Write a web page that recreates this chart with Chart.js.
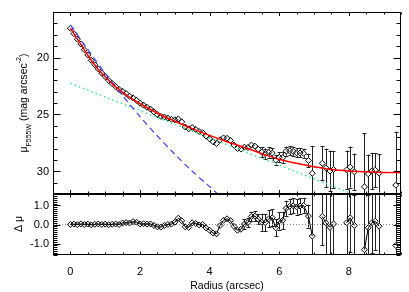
<!DOCTYPE html>
<html>
<head>
<meta charset="utf-8">
<script src="https://cdn.jsdelivr.net/npm/chart.js@4.4.0/dist/chart.umd.min.js"></script>
<style>
  html, body { margin: 0; padding: 0; background: #fff; }
  #wrap { position: relative; width: 409px; height: 292px; }
  #wrap canvas { position: absolute; left: 0; top: 0; }
</style>
</head>
<body>
<div id="wrap">
  <canvas id="profile" width="409" height="292"></canvas>
  <canvas id="resid" width="409" height="292"></canvas>
</div>
<script>
// observed surface brightness profile (arcsec, mag/arcsec^2)
const radius = [
  0.0, 0.1, 0.2, 0.3, 0.4, 0.5, 0.6, 0.7, 0.8, 0.9,
  1.0, 1.1, 1.2, 1.3, 1.4, 1.5, 1.6, 1.7, 1.8, 1.9,
  2.0, 2.1, 2.2, 2.3, 2.4, 2.5, 2.6, 2.7, 2.8, 2.9,
  3.0, 3.1, 3.2, 3.3, 3.4, 3.5, 3.6, 3.7, 3.8, 3.9,
  4.0, 4.1, 4.2, 4.3, 4.4, 4.5, 4.6, 4.7, 4.8, 4.9,
  5.0, 5.1, 5.2, 5.3, 5.4, 5.5, 5.6, 5.7, 5.8, 5.9,
  6.0, 6.1, 6.2, 6.3, 6.4, 6.5, 6.6, 6.7, 6.84, 6.95,
  7.24, 7.34, 7.46, 7.56, 7.94, 8.04, 8.16, 8.45, 8.56, 8.66, 8.76, 8.87, 9.35
];
const muObs = [
  17.43, 17.90, 18.39, 18.81, 19.32, 19.78, 20.25, 20.64, 21.00, 21.37,
  21.68, 22.01, 22.29, 22.55, 22.82, 22.97, 23.17, 23.41, 23.55, 23.76,
  24.02, 24.18, 24.37, 24.53, 24.78, 25.02, 25.18, 25.23, 25.32, 25.44,
  25.48, 25.40, 25.66, 26.11, 26.27, 26.16, 26.32, 26.51, 26.61, 26.91,
  27.15, 27.41, 27.56, 27.23, 27.07, 27.10, 27.30, 27.70, 28.00, 28.05,
  27.88, 27.91, 27.70, 27.79, 28.06, 28.33, 28.45, 28.35, 28.40, 29.02,
  28.77, 28.80, 28.24, 28.21, 28.25, 28.38, 28.39, 28.42, 29.06, 30.18,
  29.30, 29.70, 29.98, 29.85, 29.88, 29.63, 30.05, 31.37, 30.23, 29.98, 29.90, 30.17, 31.22
];
const muErr = [
  0.02, 0.02, 0.02, 0.02, 0.02, 0.02, 0.02, 0.02, 0.02, 0.02,
  0.02, 0.02, 0.02, 0.02, 0.02, 0.02, 0.02, 0.02, 0.02, 0.02,
  0.02, 0.02, 0.02, 0.02, 0.02, 0.02, 0.02, 0.02, 0.02, 0.02,
  0.02, 0.02, 0.02, 0.02, 0.02, 0.04, 0.04, 0.04, 0.04, 0.04,
  0.08, 0.08, 0.08, 0.08, 0.08, 0.15, 0.15, 0.15, 0.15, 0.15,
  0.25, 0.25, 0.25, 0.25, 0.25, 0.45, 0.45, 0.45, 0.45, 0.45,
  0.45, 0.45, 0.40, 0.40, 0.40, 0.40, 0.40, 0.40, 0.60, 2.40,
  1.50, 1.70, 1.80, 1.60, 1.70, 1.80, 1.60, 4.70, 1.70, 1.60, 1.50, 1.70, 4.70
];
// residuals (model - data)
const deltaMu = [
  0.00, 0.02, -0.01, 0.03, 0.00, 0.02, -0.02, 0.01, 0.03, 0.00,
  0.02, -0.01, 0.01, 0.03, 0.00, 0.08, 0.10, 0.08, 0.15, 0.12,
  0.03, 0.04, 0.02, 0.03, -0.05, -0.12, -0.14, -0.05, 0.00, 0.02,
  0.12, 0.33, 0.20, -0.12, -0.15, 0.09, 0.05, -0.02, 0.00, -0.18,
  -0.30, -0.45, -0.49, -0.05, 0.22, 0.30, 0.20, -0.10, -0.30, -0.25,
  0.02, 0.10, 0.42, 0.44, 0.28, 0.12, 0.10, 0.30, 0.35, -0.17,
  0.18, 0.22, 0.85, 0.95, 0.98, 0.92, 0.97, 1.00, 0.44, -0.61,
  0.42, 0.09, -0.15, 0.03, 0.09, 0.35, -0.05, -1.32, -0.17, 0.09, 0.17, -0.09, -1.10
];

// fitted model curves
const modelR = [0, 0.25, 0.5, 0.75, 1, 1.25, 1.5, 1.75, 2, 2.5, 3, 3.5, 4, 4.5, 5, 5.5, 6, 6.5, 7, 7.5, 8, 8.5, 9, 9.5];
const modelTotal = [17.43, 18.6, 19.8, 20.85, 21.7, 22.45, 23.05, 23.6, 24.05, 24.9, 25.6, 26.25, 26.85, 27.4, 27.9, 28.45, 28.95, 29.3, 29.6, 29.85, 29.98, 30.05, 30.1, 30.13];
const bulgeR = [0, 0.5, 1, 1.5, 2, 2.5, 3, 3.5, 4, 4.3];
const bulgeMu = [17.14, 19.3, 21.4, 23.35, 25.2, 26.9, 28.5, 30.0, 31.35, 32.2];
const diskR = [0, 8.2];
const diskMu = [22.27, 32.1];

// axes
const xRange = [-0.5, 9.5];
const xMajor = [0, 2, 4, 6, 8];
const xTickLabels = ['0', '2', '4', '6', '8'];
const muRange = [16, 32];
const muMajor = [20, 25, 30];
const muTickLabels = ['20', '25', '30'];
const dRange = [-1.6, 1.6];
const dMajor = [1, 0, -1];
const dTickLabels = ['1.0', '0.0', '-1.0'];

const FONT = '"Liberation Sans", Arial, Helvetica, sans-serif';
const pts = (xs, ys) => xs.map((x, i) => ({ x, y: ys[i] }));

function frame(spec) {
  return {
    id: 'frame',
    afterDraw(chart) {
      const { ctx, chartArea: a } = chart;
      const xs = chart.scales.x, ys = chart.scales.y;
      const near = (v, list) => list.some(m => Math.abs(m - v) < 1e-6);
      const L = a.left + 0.5, R = a.right - 0.5, T = a.top + 0.5, B = a.bottom - 0.5;
      ctx.save();
      ctx.strokeStyle = '#000';
      ctx.lineWidth = 1;
      ctx.beginPath();
      for (let i = Math.ceil(xs.min / spec.xStep - 1e-9); i * spec.xStep <= xs.max + 1e-9; i++) {
        const v = i * spec.xStep;
        const p = Math.round(xs.getPixelForValue(v)) + 0.5;
        const len = near(v, xMajor) ? spec.xLen[0] : spec.xLen[1];
        ctx.moveTo(p, T); ctx.lineTo(p, T + len);
        ctx.moveTo(p, B); ctx.lineTo(p, B - len);
      }
      const lo = Math.min(ys.min, ys.max), hi = Math.max(ys.min, ys.max);
      for (let i = Math.ceil(lo / spec.yStep - 1e-9); i * spec.yStep <= hi + 1e-9; i++) {
        const v = i * spec.yStep;
        const p = Math.round(ys.getPixelForValue(v)) + 0.5;
        const len = near(v, spec.yMajor) ? spec.yLen[0] : spec.yLen[1];
        ctx.moveTo(L, p); ctx.lineTo(L + len, p);
        ctx.moveTo(R, p); ctx.lineTo(R - len, p);
      }
      ctx.stroke();
      ctx.strokeRect(L, T, R - L, B - T);

      ctx.fillStyle = '#000';
      ctx.font = '11px ' + FONT;
      ctx.textAlign = 'right';
      ctx.textBaseline = 'middle';
      spec.yMajor.forEach((v, i) => ctx.fillText(spec.yLabels[i], a.left - 4, ys.getPixelForValue(v) + 0.5));
      if (spec.xLabels) {
        ctx.textAlign = 'center';
        ctx.textBaseline = 'alphabetic';
        xMajor.forEach((v, i) => ctx.fillText(spec.xLabels[i], xs.getPixelForValue(v), a.bottom + 20));
        ctx.font = '10.5px ' + FONT;
        ctx.fillText('Radius (arcsec)', (a.left + a.right) / 2, a.bottom + 34);
      }
      // rotated y title built from pieces: [text, size, baseline shift]
      ctx.save();
      ctx.translate(spec.yTitle.x, spec.yTitle.y);
      ctx.rotate(-Math.PI / 2);
      ctx.textAlign = 'left';
      ctx.textBaseline = 'alphabetic';
      let total = 0;
      spec.yTitle.parts.forEach(([t, s]) => { ctx.font = s + 'px ' + FONT; total += ctx.measureText(t).width; });
      let cx = -total / 2;
      spec.yTitle.parts.forEach(([t, s, dy]) => {
        ctx.font = s + 'px ' + FONT;
        ctx.fillText(t, cx, dy);
        cx += ctx.measureText(t).width;
      });
      ctx.restore();
      ctx.restore();
    }
  };
}

const errorBars = {
  id: 'errorBars',
  beforeDatasetsDraw(chart, args, opts) {
    const { ctx, chartArea: a } = chart;
    const xs = chart.scales.x, ys = chart.scales.y;
    ctx.save();
    ctx.beginPath();
    ctx.rect(a.left, a.top, a.width, a.height);
    ctx.clip();
    ctx.strokeStyle = '#222';
    ctx.lineWidth = 1;
    ctx.beginPath();
    opts.values.forEach((v, i) => {
      const px = Math.round(xs.getPixelForValue(radius[i])) + 0.5;
      const cy = ys.getPixelForValue(v);
      const p1 = ys.getPixelForValue(v - muErr[i]);
      const p2 = ys.getPixelForValue(v + muErr[i]);
      const top = Math.min(p1, p2), bot = Math.max(p1, p2);
      if (cy - top < 3.5) return;
      ctx.moveTo(px, top); ctx.lineTo(px, cy - 3);
      ctx.moveTo(px, cy + 3); ctx.lineTo(px, bot);
      ctx.moveTo(px - 2, Math.round(top) + 0.5); ctx.lineTo(px + 2, Math.round(top) + 0.5);
      ctx.moveTo(px - 2, Math.round(bot) + 0.5); ctx.lineTo(px + 2, Math.round(bot) + 0.5);
    });
    ctx.stroke();
    ctx.restore();
  }
};

const markerStyle = {
  pointStyle: 'rectRot',
  pointRadius: 3,
  pointBorderWidth: 1,
  pointBorderColor: '#000',
  pointBackgroundColor: 'rgba(0,0,0,0)',
  pointHoverRadius: 3
};

const fixedX = (height) => ({
  type: 'linear', min: xRange[0], max: xRange[1],
  ticks: { display: false }, grid: { display: false, drawTicks: false }, border: { display: false },
  afterFit: s => { s.height = height; }
});
const fixedY = (range, reverse) => ({
  type: 'linear', min: range[0], max: range[1], reverse,
  ticks: { display: false }, grid: { display: false, drawTicks: false }, border: { display: false },
  afterFit: s => { s.width = 53; }
});

new Chart(document.getElementById('profile'), {
  type: 'line',
  data: {
    datasets: [
      { data: pts(modelR, modelTotal), borderColor: '#ff0000', borderWidth: 1.5, pointRadius: 0, cubicInterpolationMode: 'monotone', order: 1 },
      { data: pts(bulgeR, bulgeMu), borderColor: '#3c3cff', borderWidth: 1.2, borderDash: [6, 4], pointRadius: 0, tension: 0.3, order: 2 },
      { data: pts(diskR, diskMu), borderColor: '#33ee88', borderWidth: 1.5, borderDash: [1.5, 3], pointRadius: 0, order: 3 },
      Object.assign({ data: pts(radius, muObs), showLine: false, order: 4 }, markerStyle)
    ]
  },
  options: {
    responsive: false, animation: false, events: [],
    layout: { padding: { left: 0, right: 8, top: 12, bottom: 0 }, autoPadding: false },
    plugins: { legend: { display: false }, tooltip: { enabled: false }, errorBars: { values: muObs } },
    scales: { x: fixedX(98), y: fixedY(muRange, true) }
  },
  plugins: [errorBars, frame({
    xStep: 0.5, xLen: [3.5, 2], yStep: 1, yLen: [7, 4], yMajor: muMajor, yLabels: muTickLabels,
    yTitle: { x: 26.5, y: 103, parts: [['μ', 10.5, 0], ['F555W', 7, 4.5], [' (mag arcsec', 10.5, 0], ['-2', 7, -6], [')', 10.5, 0]] }
  })]
});

new Chart(document.getElementById('resid'), {
  type: 'line',
  data: {
    datasets: [
      { data: pts(xRange, [0, 0]), borderColor: '#8a8a8a', borderWidth: 1, borderDash: [1, 2], pointRadius: 0, order: 2 },
      Object.assign({
        data: pts(radius, deltaMu), borderColor: '#000', borderWidth: 1, order: 1,
        segment: { borderColor: c => (c.p1.parsed.x - c.p0.parsed.x > 0.2 ? 'rgba(0,0,0,0)' : '#000') }
      }, markerStyle)
    ]
  },
  options: {
    responsive: false, animation: false, events: [],
    layout: { padding: { left: 0, right: 8, top: 194, bottom: 0 }, autoPadding: false },
    plugins: { legend: { display: false }, tooltip: { enabled: false }, errorBars: { values: deltaMu } },
    scales: { x: fixedX(37), y: fixedY(dRange, false) }
  },
  plugins: [errorBars, frame({
    xStep: 0.5, xLen: [3, 2], yStep: 0.1, yLen: [7, 4], yMajor: dMajor, yLabels: dTickLabels, xLabels: xTickLabels,
    yTitle: { x: 22, y: 224, parts: [['Δ μ', 10.5, 0]] }
  })]
});
</script>
</body>
</html>
